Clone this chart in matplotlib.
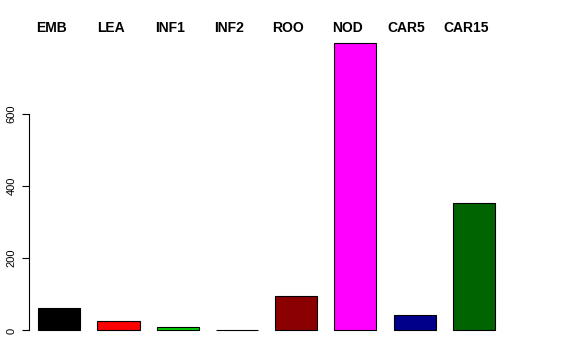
import matplotlib
matplotlib.use('Agg')
import matplotlib.pyplot as plt
import matplotlib.transforms as mtransforms

# tissue labels and counts
tissues = ['EMB', 'LEA', 'INF1', 'INF2', 'ROO', 'NOD', 'CAR5', 'CAR15']
counts = [62, 26, 10, 2, 96, 797, 44, 354]
bar_colors = ['black', 'red', '#00CD00', 'blue', '#8B0000', 'magenta', '#00008B', '#006400']
yticks = [0, 200, 400, 600]

plt.rcParams['font.family'] = ['Liberation Sans', 'DejaVu Sans']

fig = plt.figure(figsize=(5.76, 3.6), dpi=100)
# axes placed in pixels to mimic the R plot region
ax = fig.add_axes([29 / 576, 18 / 360, 521 / 576, 311 / 360])

x = range(len(tissues))
ax.bar(x, counts, width=0.71, color=bar_colors, edgecolor='black', linewidth=0.8)

ax.set_xlim(-0.511, 8.284)
ax.set_ylim(-32, 829)

for side in ['top', 'right', 'bottom']:
    ax.spines[side].set_visible(False)
ax.spines['left'].set_bounds(0, 600)
ax.spines['left'].set_linewidth(0.8)
ax.set_xticks([])
ax.set_yticks(yticks)
ax.set_yticklabels([str(t) for t in yticks], rotation=90, va='center', fontsize=8)
ax.tick_params(axis='y', length=5, width=0.8, pad=4)

# labels at the top, a little left of each bar
trans = mtransforms.blended_transform_factory(ax.transData, fig.transFigure)
offset = mtransforms.ScaledTranslation(-8 / 100, 0, fig.dpi_scale_trans)
for i, name in enumerate(tissues):
    ax.text(i, 1 - 28 / 360, name, transform=trans + offset,
            ha='center', va='center', fontsize=10, fontweight='bold')

fig.savefig('out.png', dpi=100, facecolor='white')
plt.close()
